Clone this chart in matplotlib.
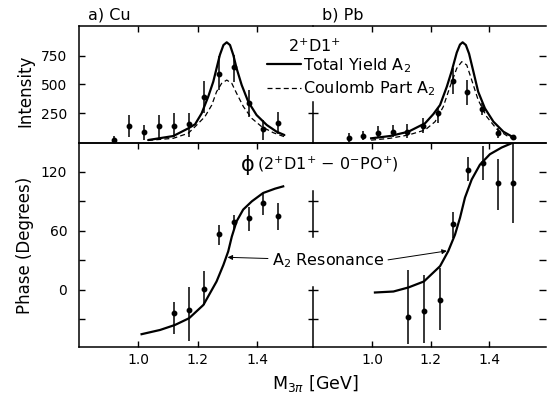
import matplotlib
matplotlib.use("Agg")
import matplotlib.pyplot as plt

plt.rcParams['font.family'] = ['DejaVu Sans']
plt.rcParams['mathtext.fontset'] = 'dejavusans'

# ---------------- data ----------------
# Intensity points (x in GeV)
cu_int_x = [0.92, 0.97, 1.02, 1.07, 1.12, 1.17, 1.22, 1.27, 1.32, 1.37, 1.42, 1.47]
cu_int = [15, 136, 86, 136, 136, 151, 388, 592, 651, 340, 107, 165]
cu_int_lo = [-20, 40, 13, 28, 37, 42, 250, 452, 525, 218, 13, 66]
cu_int_hi = [48, 232, 145, 232, 247, 247, 531, 750, 759, 452, 189, 261]

pb_int_x = [0.92, 0.97, 1.02, 1.07, 1.12, 1.175, 1.225, 1.275, 1.325, 1.375, 1.43, 1.48]
pb_int = [33, 51, 72, 81, 86, 139, 247, 530, 437, 282, 77, 37]
pb_int_lo = [-2, 13, 28, 37, 28, 72, 165, 414, 320, 232, 28, 13]
pb_int_hi = [72, 95, 136, 145, 154, 208, 291, 642, 539, 335, 116, 60]

# Intensity curves
cu_tot_x = [1.034, 1.07, 1.118, 1.168, 1.191, 1.213, 1.235, 1.252, 1.263, 1.274, 1.286,
            1.297, 1.308, 1.319, 1.330, 1.347, 1.369, 1.397, 1.431, 1.464, 1.490]
cu_tot = [13, 28, 48, 115, 151, 247, 393, 525, 642, 759, 846,
          870, 846, 759, 642, 496, 349, 232, 145, 86, 57]
cu_coul_x = [1.034, 1.118, 1.168, 1.191, 1.224, 1.247, 1.263, 1.280, 1.297, 1.314,
             1.330, 1.353, 1.381, 1.414, 1.453, 1.490]
cu_coul = [10, 28, 72, 130, 218, 320, 437, 510, 539, 510, 423, 305, 203, 130, 77, 42]

pb_tot_x = [0.997, 1.061, 1.124, 1.181, 1.209, 1.232, 1.255, 1.272, 1.289, 1.300, 1.309,
            1.320, 1.331, 1.346, 1.362, 1.385, 1.414, 1.448, 1.488]
pb_tot = [28, 48, 86, 160, 240, 320, 480, 620, 780, 850, 870,
          846, 770, 610, 437, 291, 174, 86, 28]
pb_coul_x = [0.997, 1.061, 1.124, 1.181, 1.215, 1.243, 1.266, 1.289, 1.306, 1.323,
             1.340, 1.362, 1.391, 1.425, 1.465, 1.493]
pb_coul = [12, 28, 57, 101, 174, 305, 481, 642, 700, 671, 539, 364, 218, 110, 42, 13]

# Phase points
cu_ph_x = [1.12, 1.17, 1.22, 1.27, 1.32, 1.37, 1.42, 1.47]
cu_ph = [-23, -20, 1, 57, 69, 73, 88, 75]
cu_ph_lo = [-45, -52, -15, 46, 62, 60, 76, 61]
cu_ph_hi = [-12, 3, 19, 66, 76, 84, 98, 88]

pb_ph_x = [1.124, 1.177, 1.232, 1.277, 1.328, 1.377, 1.431, 1.482]
pb_ph = [-28, -21, -10, 67, 122, 129, 108, 108]
pb_ph_lo = [-55, -54, -41, 53, 110, 111, 81, 68]
pb_ph_hi = [20, 15, 22, 79, 135, 146, 133, 152]

# Phase curves
cu_phc_x = [1.012, 1.074, 1.124, 1.171, 1.219, 1.241, 1.263, 1.286, 1.302, 1.314,
            1.330, 1.352, 1.381, 1.419, 1.459, 1.486]
cu_phc = [-45, -40.7, -35.6, -28.8, -15.3, -3.4, 8.5, 25.4, 39, 54,
          69.5, 81.4, 89.8, 98.3, 102.7, 105]
pb_phc_x = [1.010, 1.073, 1.124, 1.177, 1.232, 1.260, 1.283, 1.300, 1.317, 1.340,
            1.368, 1.402, 1.442, 1.482, 1.510]
pb_phc = [-2.7, -1.7, 2.4, 8.5, 24, 39.3, 56, 73, 93.6, 112, 127, 137.6, 144.4, 149.5, 152]

x_ticks = [1.0, 1.2, 1.4]
x_tick_labels = ['1.0', '1.2', '1.4']
int_ticks = [250, 500, 750]
ph_major = [120, 60, 0]
ph_minor = [90, 30, -30]
ph_all = [120, 90, 60, 30, 0, -30]

# ---------------- layout ----------------
W, H = 547, 400
fig = plt.figure(figsize=(W / 100, H / 100), dpi=100)
L, M, R = 79 / W, 313 / W, 546 / W
yt, ym, yb = 1 - 26 / H, 1 - 143 / H, 1 - 347 / H

axCT = fig.add_axes([L, ym, M - L, yt - ym])
axCB = fig.add_axes([L, yb, M - L, ym - yb])
axPT = fig.add_axes([M, ym, R - M, yt - ym])
axPB = fig.add_axes([M, yb, R - M, ym - yb])

cu_xlim = (0.8025, 1.5858)
pb_xlim = (0.7988, 1.5933)
int_ylim = (-13, 1013)
ph_ylim = (-58, 149)

SLW = 1.1
for ax in (axCT, axCB, axPT, axPB):
    ax.set_facecolor('none')
    for s in ax.spines.values():
        s.set_linewidth(SLW)
    ax.spines['right'].set_visible(False)

for ax, xl in ((axCT, cu_xlim), (axCB, cu_xlim), (axPT, pb_xlim), (axPB, pb_xlim)):
    ax.set_xlim(*xl)
    ax.set_xticks(x_ticks)

for ax in (axCT, axPT):
    ax.set_ylim(*int_ylim)
    ax.set_yticks(int_ticks)
    ax.tick_params(axis='x', top=True, bottom=False, labelbottom=False,
                   direction='in', length=4.5, width=1)
for ax in (axCB, axPB):
    ax.set_ylim(*ph_ylim)
    ax.set_xticklabels(x_tick_labels)
    ax.tick_params(axis='x', top=True, bottom=True, direction='in', length=4.5,
                   width=1, labelsize=10, pad=4)

axCT.tick_params(axis='y', left=True, right=False, direction='in', length=4.5,
                 width=1, labelsize=10, pad=8.5)
axCB.set_yticks(ph_major)
axCB.set_yticks(ph_minor, minor=True)
axCB.tick_params(axis='y', which='both', left=True, right=False, direction='in',
                 length=4.5, width=1, labelsize=10, pad=8.5)

axPT.tick_params(axis='y', left=False, right=True, labelleft=False, direction='in',
                 length=5, width=1)
axPB.set_yticks(ph_all)
axPB.tick_params(axis='y', left=False, right=True, labelleft=False, direction='in',
                 length=5, width=1)

# middle divider (Pb left spine, interrupted by the labels) with crossing ticks
axPT.spines['left'].set_bounds(-13, 350)
secT = axPT.secondary_yaxis('left')
secT.set_yticks([250])
secT.tick_params(axis='y', direction='inout', length=7, width=1, labelleft=False)
secT.spines['left'].set_visible(False)

axPB.spines['left'].set_bounds(-58, 3)
secB = axPB.secondary_yaxis('left')
secB.set_yticks([90, 60, 0, -30])
secB.tick_params(axis='y', direction='inout', length=7, width=1, labelleft=False)
secB.spines['left'].set_linewidth(SLW)
secB.spines['left'].set_bounds(54, 100)

# ---------------- marks ----------------
def errpts(ax, x, y, lo, hi):
    yerr = [[v - a for v, a in zip(y, lo)], [b - v for v, b in zip(y, hi)]]
    ax.errorbar(x, y, yerr=yerr, fmt='o', color='k', ms=3.2, elinewidth=1.1,
                capsize=0, zorder=3)

l_tot, = axCT.plot(cu_tot_x, cu_tot, color='k', lw=1.6, solid_capstyle='round')
l_coul, = axCT.plot(cu_coul_x, cu_coul, color='k', lw=0.9, dashes=(4, 2.5))
errpts(axCT, cu_int_x, cu_int, cu_int_lo, cu_int_hi)

axPT.plot(pb_tot_x, pb_tot, color='k', lw=1.6)
axPT.plot(pb_coul_x, pb_coul, color='k', lw=0.9, dashes=(4, 2.5))
errpts(axPT, pb_int_x, pb_int, pb_int_lo, pb_int_hi)

axCB.plot(cu_phc_x, cu_phc, color='k', lw=1.6)
errpts(axCB, cu_ph_x, cu_ph, cu_ph_lo, cu_ph_hi)
axPB.plot(pb_phc_x, pb_phc, color='k', lw=1.6)
errpts(axPB, pb_ph_x, pb_ph, pb_ph_lo, pb_ph_hi)

# ---------------- text ----------------
FS = 11.5
axCT.text(0.038, 1.095, 'a) Cu', transform=axCT.transAxes, ha='left', va='center',
          fontsize=FS)
axPT.text(0.039, 1.095, 'b) Pb', transform=axPT.transAxes, ha='left', va='center',
          fontsize=FS)
axCT.text(-0.23, 0.445, 'Intensity', transform=axCT.transAxes, rotation=90,
          ha='center', va='center', fontsize=12)
axCB.text(-0.23, 0.5, 'Phase (Degrees)', transform=axCB.transAxes, rotation=90,
          ha='center', va='center', fontsize=12)

axCT.text(1.503, 833, r'2$^{+}$D1$^{+}$', ha='left', va='center', fontsize=FS)
axCT.legend(handles=[l_tot, l_coul],
            labels=[r'Total Yield A$_{2}$', r'Coulomb Part A$_{2}$'],
            loc='upper left', bbox_to_anchor=(267 / W, 1 - 56 / H),
            bbox_transform=fig.transFigure, frameon=False, handlelength=2.1,
            handletextpad=0.15, labelspacing=0.3, borderpad=0, borderaxespad=0,
            fontsize=FS)

axCB.text(1.346, 127, 'ϕ', ha='left', va='center', fontsize=15)
axCB.text(1.398, 127, '(2$^{+}$D1$^{+}$ $-$ 0$^{-}$PO$^{+}$)', ha='left', va='center',
          fontsize=FS)

aprops = dict(arrowstyle='-|>', color='k', lw=0.7, mutation_scale=7,
              shrinkA=1, shrinkB=0)
axCB.annotate(r'A$_{2}$ Resonance', xy=(1.300, 33), xytext=(1.449, 30),
              ha='left', va='center', fontsize=FS, arrowprops=aprops,
              annotation_clip=False)
axPB.annotate('', xy=(1.255, 39.5), xytext=(1.050, 30.2), arrowprops=aprops,
              annotation_clip=False)

fig.text(315 / W, 1 - 384 / H, r'M$_{3\pi}$ [GeV]', ha='center', va='center',
         fontsize=12.5)

fig.savefig('out.png', dpi=100)
